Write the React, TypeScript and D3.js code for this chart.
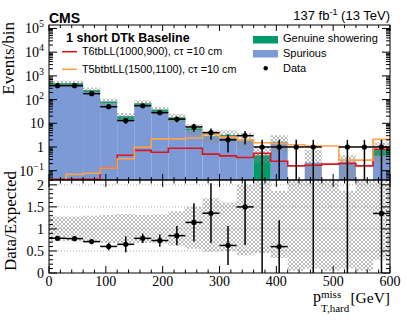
import React from 'react';
import * as d3 from 'd3';

// 20 bins of 30 GeV in pT,hard miss
const binEdges = d3.range(0, 601, 30);
const spurious = [405, 410, 205, 68, 14, 58, 30, 13, 5.0, 2.85, 2.6, 1.85, 0, 1.67, 0, 0.22, 0, 0.24, 0, 0.42];
const genuine = [85, 85, 45, 15, 6, 12, 8, 4.7, 1.1, 0.1, 0.6, 0.15, 0.45, 0, 0, 0, 0, 0, 0, 0.32];
const observed = [386, 386, 178, 50, 13, 55, 28, 15, 7, 4, 2, 3, 1, 1, 1, 1, 0, 1, 1, 1];
const t6tbLL = [0.043, 0.043, 0.043, 0.134, 0.45, 0.72, 0.6, 0.88, 0.88, 0.5, 0.42, 0.36, 0.54, 0.25, 0.16, 0.17, 0.19, 0.2, 0.16, 0.8];
const t5btbtLL = [0, 0.07, 0.078, 0.13, 0.32, 0.97, 2.2, 2.2, 2.4, 3.4, 2.6, 2.0, 1.5, 1.4, 1.25, 1.1, 1.1, 0.28, 0.28, 2.1];
// relative uncertainty band
const bandLo = [0.72, 0.72, 0.70, 0.68, 0.66, 0.68, 0.67, 0.62, 0.55, 0.48, 0.50, 0.40, 0.45, 0.34, 0.05, 0.10, 0.05, 0.10, 0.05, 0.30];
const bandHi = [1.28, 1.28, 1.30, 1.32, 1.34, 1.32, 1.33, 1.40, 1.50, 1.70, 1.60, 2.00, 2.20, 1.86, 2.20, 3.40, 2.20, 1.86, 2.20, 2.20];

const logTicks = [1e-1, 1, 10, 1e2, 1e3, 1e4, 1e5];
const logTickLabels = [['10', '\u22121'], ['1', ''], ['10', ''], ['10', '2'], ['10', '3'], ['10', '4'], ['10', '5']];
const ratioTicks = [0, 0.5, 1, 1.5, 2];
const ratioTickLabels = ['0', '0.5', '1', '1.5', '2'];
const xTicks = [0, 100, 200, 300, 400, 500, 600];

const X0 = 49, X1 = 390, UP_T = 25, UP_B = 180, LO_T = 180, LO_B = 273;
const GREEN = '#019b6b';
const BLUE = '#7b9ad6';
const RED = '#e0141c';
const ORANGE = '#ffa245';
const SERIF = '"Liberation Serif", "DejaVu Serif", serif';
const SANS = '"Liberation Sans", Arial, sans-serif';

const App = () => {
  const x = d3.scaleLinear().domain([0, 600]).range([X0, X1]);
  const yUp = d3.scaleLog().domain([0.0405, 1.4e5]).range([UP_B, UP_T]);
  const yLo = d3.scaleLinear().domain([0, 2.11]).range([LO_B, LO_T]);
  const clampUp = (v: number) => Math.max(v, 1e-3);

  const bins = d3.range(20).map(i => {
    const total = spurious[i] + genuine[i];
    return {
      i, x0: binEdges[i], x1: binEdges[i + 1], c: binEdges[i] + 15,
      sp: spurious[i], ge: genuine[i], total, obs: observed[i],
    };
  });

  const step = (vals: number[]) => {
    const pts: [number, number][] = binEdges.map((e, i) => [x(e), yUp(clampUp(vals[Math.min(i, vals.length - 1)]))]);
    return d3.line().curve(d3.curveStepAfter)(pts) || '';
  };

  // minor ticks
  const xMinor = d3.range(0, 601, 20);
  const logMinor: number[] = [];
  for (let d = -2; d <= 5; d++) for (let k = 2; k <= 9; k++) {
    const v = k * Math.pow(10, d);
    if (v > 0.0405 && v < 1.4e5) logMinor.push(v);
  }
  const ratioMinor = d3.range(0, 2.11, 0.1);

  const tickStroke = { stroke: '#000', strokeWidth: 1 };

  return (
    <div style={{ position: 'absolute', left: 0, top: 0 }}>
      <svg width={407} height={328} style={{ display: 'block', background: '#fff' }}>
        <defs>
          <pattern id="hatch" width={4} height={4} patternUnits="userSpaceOnUse">
            <path d="M0,0 L4,4 M4,0 L0,4" stroke="#8c8c8c" strokeWidth={0.6} />
          </pattern>
          <clipPath id="clipUp"><rect x={X0} y={UP_T} width={X1 - X0} height={UP_B - UP_T} /></clipPath>
          <clipPath id="clipLo"><rect x={X0} y={LO_T} width={X1 - X0} height={LO_B - LO_T} /></clipPath>
        </defs>

        {/* ---------- upper panel ---------- */}
        <g clipPath="url(#clipUp)">
          {bins.map(b => b.sp > 0 && (
            <rect key={'sp' + b.i} x={x(b.x0)} width={x(b.x1) - x(b.x0)}
              y={yUp(b.sp)} height={UP_B - yUp(b.sp)} fill={BLUE} />
          ))}
          {bins.map(b => b.ge > 0 && (
            <rect key={'ge' + b.i} x={x(b.x0)} width={x(b.x1) - x(b.x0)}
              y={yUp(b.total)} height={(b.sp > 0 ? yUp(b.sp) : UP_B) - yUp(b.total)} fill={GREEN} />
          ))}
          {bins.map(b => b.total > 0 && (
            <rect key={'hu' + b.i} x={x(b.x0)} width={x(b.x1) - x(b.x0)}
              y={yUp(b.total * bandHi[b.i])}
              height={yUp(clampUp(b.total * bandLo[b.i])) - yUp(b.total * bandHi[b.i])}
              fill="url(#hatch)" />
          ))}
          <path d={step(t6tbLL)} fill="none" stroke={RED} strokeWidth={1.6} />
          <path d={step(t5btbtLL)} fill="none" stroke={ORANGE} strokeWidth={1.6} />
          {bins.map(b => {
            if (b.obs <= 0) return null;
            const e = Math.sqrt(b.obs);
            const yc = yUp(b.obs);
            return (
              <g key={'d' + b.i}>
                <line x1={x(b.x0)} x2={x(b.x1)} y1={yc} y2={yc} stroke="#000" strokeWidth={1.5} />
                <line x1={x(b.c)} x2={x(b.c)} y1={yUp(b.obs + e)} y2={yUp(clampUp(b.obs - e))} stroke="#000" strokeWidth={1.5} />
                <circle cx={x(b.c)} cy={yc} r={2.6} fill="#000" />
              </g>
            );
          })}
        </g>
        <rect x={X0} y={UP_T} width={X1 - X0} height={UP_B - UP_T} fill="none" stroke="#000" strokeWidth={1} />
        {xMinor.map(v => {
          const len = v % 100 === 0 ? 6 : 3;
          return (
            <g key={'xu' + v}>
              <line x1={x(v)} x2={x(v)} y1={UP_B} y2={UP_B - len} {...tickStroke} />
              <line x1={x(v)} x2={x(v)} y1={UP_T} y2={UP_T + len} {...tickStroke} />
            </g>
          );
        })}
        {logTicks.map(v => (
          <g key={'yu' + v}>
            <line x1={X0} x2={X0 + 8} y1={yUp(v)} y2={yUp(v)} {...tickStroke} />
            <line x1={X1} x2={X1 - 8} y1={yUp(v)} y2={yUp(v)} {...tickStroke} />
          </g>
        ))}
        {logMinor.map(v => (
          <g key={'yum' + v}>
            <line x1={X0} x2={X0 + 4} y1={yUp(v)} y2={yUp(v)} {...tickStroke} />
            <line x1={X1} x2={X1 - 4} y1={yUp(v)} y2={yUp(v)} {...tickStroke} />
          </g>
        ))}
        {logTicks.map((v, i) => (
          <text key={'yl' + v} x={44} y={yUp(v) + 5} textAnchor="end" fontFamily={SERIF} fontSize={14}>
            {logTickLabels[i][0]}
            {logTickLabels[i][1] && <tspan dy={-6} fontSize={10}>{logTickLabels[i][1]}</tspan>}
          </text>
        ))}

        {/* ---------- lower panel ---------- */}
        {ratioTicks.filter(v => v > 0).map(v => (
          <line key={'g' + v} x1={X0} x2={X1} y1={yLo(v)} y2={yLo(v)} stroke="#9a9a9a" strokeWidth={0.8} strokeDasharray="1,2" />
        ))}
        <g clipPath="url(#clipLo)">
          {bins.map(b => (
            <rect key={'hl' + b.i} x={x(b.x0)} width={x(b.x1) - x(b.x0)}
              y={yLo(bandHi[b.i])} height={yLo(bandLo[b.i]) - yLo(bandHi[b.i])} fill="url(#hatch)" />
          ))}
          {bins.map(b => {
            if (b.total <= 0 || b.obs <= 0) return null;
            const r = b.obs / b.total;
            const e = Math.sqrt(b.obs) / b.total;
            return (
              <g key={'r' + b.i}>
                <line x1={x(b.x0)} x2={x(b.x1)} y1={yLo(r)} y2={yLo(r)} stroke="#000" strokeWidth={1.5} />
                <line x1={x(b.c)} x2={x(b.c)} y1={yLo(r + e)} y2={yLo(Math.max(0, r - e))} stroke="#000" strokeWidth={1.5} />
                <circle cx={x(b.c)} cy={yLo(r)} r={2.6} fill="#000" />
              </g>
            );
          })}
        </g>
        <rect x={X0} y={LO_T} width={X1 - X0} height={LO_B - LO_T} fill="none" stroke="#000" strokeWidth={1} />
        {xMinor.map(v => {
          const len = v % 100 === 0 ? 7 : 3.5;
          return (
            <g key={'xl' + v}>
              <line x1={x(v)} x2={x(v)} y1={LO_B} y2={LO_B - len} {...tickStroke} />
              <line x1={x(v)} x2={x(v)} y1={LO_T} y2={LO_T + len} {...tickStroke} />
            </g>
          );
        })}
        {ratioMinor.map(v => {
          const major = ratioTicks.some(t => Math.abs(t - v) < 1e-6);
          const len = major ? 8 : 4;
          return (
            <g key={'yl' + v.toFixed(1)}>
              <line x1={X0} x2={X0 + len} y1={yLo(v)} y2={yLo(v)} {...tickStroke} />
              <line x1={X1} x2={X1 - len} y1={yLo(v)} y2={yLo(v)} {...tickStroke} />
            </g>
          );
        })}
        {ratioTicks.map((v, i) => (
          <text key={'rl' + v} x={44} y={yLo(v) + 5} textAnchor="end" fontFamily={SERIF} fontSize={14}>
            {ratioTickLabels[i]}
          </text>
        ))}
        {xTicks.map(v => (
          <text key={'xt' + v} x={x(v)} y={286} textAnchor="middle" fontFamily={SERIF} fontSize={14}>{v}</text>
        ))}

        {/* ---------- axis titles ---------- */}
        <text transform="translate(14,22) rotate(-90)" textAnchor="end" fontFamily={SERIF} fontSize={17}>Events/bin</text>
        <text transform="translate(16,221) rotate(-90)" textAnchor="middle" fontFamily={SERIF} fontSize={17}>Data/Expected</text>
        <text fontFamily={SERIF} fontSize={16} x={313} y={302}>p</text>
        <text fontFamily={SERIF} fontSize={11} x={321} y={298}>miss</text>
        <text fontFamily={SERIF} fontSize={11} x={321} y={311.5}>T,hard</text>
        <text fontFamily={SERIF} fontSize={15.5} x={390} y={303} textAnchor="end">[GeV]</text>

        {/* ---------- header ---------- */}
        <text x={49} y={22.7} fontFamily={SANS} fontWeight="bold" fontSize={14}>CMS</text>
        <text x={390} y={19.5} textAnchor="end" fontFamily={SANS} fontSize={13}>
          137 fb<tspan dy={-5} fontSize={9}>-1</tspan><tspan dy={5}> (13 TeV)</tspan>
        </text>

        {/* ---------- legends ---------- */}
        <text x={66} y={41.7} fontFamily={SANS} fontWeight="bold" fontSize={12.5}>1 short DTk Baseline</text>
        <line x1={62} x2={77} y1={51.7} y2={51.7} stroke={RED} strokeWidth={1.6} />
        <text x={82} y={55.3} fontFamily={SANS} fontSize={10.8}>T6tbLL(1000,900), cτ =10 cm</text>
        <line x1={62} x2={77} y1={69.3} y2={69.3} stroke={ORANGE} strokeWidth={1.6} />
        <text x={82} y={72.8} fontFamily={SANS} fontSize={10.8}>T5btbtLL(1500,1100), cτ =10 cm</text>

        <rect x={253} y={36} width={25} height={7.5} fill={GREEN} />
        <text x={283} y={41.5} fontFamily={SANS} fontSize={11}>Genuine showering</text>
        <rect x={253} y={50} width={25} height={7.5} fill={BLUE} />
        <text x={283} y={56.5} fontFamily={SANS} fontSize={11}>Spurious</text>
        <circle cx={265.7} cy={68.3} r={2.2} fill="#000" />
        <text x={283} y={71.8} fontFamily={SANS} fontSize={11}>Data</text>
      </svg>
    </div>
  );
};

export default App;
